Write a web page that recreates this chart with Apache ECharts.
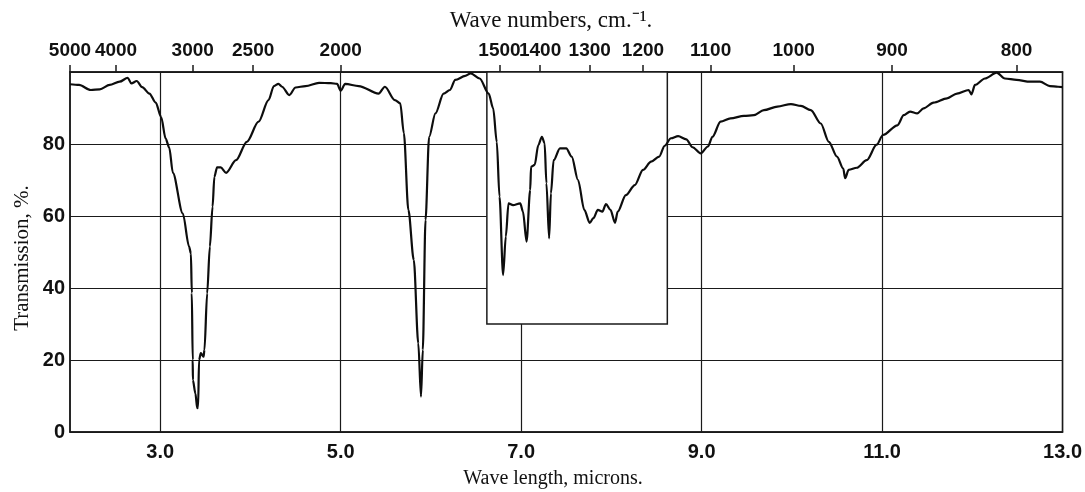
<!DOCTYPE html>
<html>
<head>
<meta charset="utf-8">
<script src="https://cdn.jsdelivr.net/npm/echarts@6/dist/echarts.min.js"></script>
<style>html,body{margin:0;padding:0;background:#fff}#c{width:1085px;height:492px}</style>
</head>
<body>
<div id="c"></div>
<script>
// Wavelength (microns) and transmission (%)
var wavelengthUm = [2.00,2.10,2.23,2.33,2.44,2.55,2.64,2.68,2.74,2.80,2.88,2.95,3.01,3.06,3.10,3.14,3.25,3.32,3.34,3.35,3.36,3.362,3.39,3.41,3.42,3.43,3.45,3.48,3.49,3.52,3.55,3.58,3.60,3.63,3.67,3.73,3.84,3.96,4.09,4.20,4.26,4.31,4.35,4.43,4.50,4.61,4.76,4.89,4.96,5.00,5.05,5.20,5.42,5.49,5.60,5.66,5.70,5.75,5.81,5.86,5.89,5.91,5.94,5.98,6.05,6.14,6.21,6.27,6.38,6.44,6.54,6.64,6.69,6.73,6.76,6.80,6.83,6.86,6.91,6.99,7.02,7.06,7.10,7.11,7.15,7.19,7.23,7.26,7.28,7.31,7.33,7.36,7.43,7.50,7.56,7.63,7.70,7.76,7.80,7.85,7.90,7.94,7.99,8.04,8.07,8.16,8.26,8.35,8.44,8.53,8.59,8.66,8.74,8.83,8.90,8.99,9.07,9.12,9.21,9.32,9.47,9.58,9.69,9.84,9.99,10.10,10.21,10.32,10.41,10.50,10.57,10.59,10.63,10.72,10.83,10.94,11.01,11.17,11.24,11.31,11.39,11.46,11.57,11.72,11.83,11.96,11.99,12.03,12.14,12.27,12.36,12.49,12.64,12.75,12.86,12.95,13.00];
var transmissionPct = [96.6,96.4,95.0,95.2,96.4,97.3,98.4,96.8,97.5,95.8,94.0,91.5,87.5,81.5,79.0,72.0,60.7,51.5,49.6,38.6,20.0,14.4,10.7,6.6,7.0,20.0,21.9,20.9,22.8,38.5,51.5,62.6,70.9,73.5,73.5,72.0,75.5,80.6,86.2,92.2,96.1,96.7,95.9,93.6,95.7,96.1,97.0,96.9,96.7,94.8,96.7,96.1,94.0,95.9,92.2,91.3,83.0,61.7,47.8,24.6,9.8,22.8,58.9,82.0,88.5,94.0,95.0,97.8,98.9,99.6,98.2,94.0,89.9,80.5,65.4,43.6,54.3,63.5,63.0,63.5,61.2,52.9,67.2,73.7,74.2,79.7,82.0,80.2,69.1,53.8,66.3,75.5,78.8,78.8,76.5,70.0,61.7,58.1,59.4,61.7,61.2,63.3,61.7,58.1,61.2,65.8,68.6,72.8,75.1,76.5,79.5,81.6,82.2,81.3,79.1,77.4,79.3,82.0,86.2,87.1,87.8,88.0,89.4,90.4,91.1,90.6,89.4,85.7,80.6,76.5,73.2,70.5,72.8,73.4,75.5,79.8,82.5,85.2,88.0,89.0,88.5,89.9,91.5,92.7,94.0,95.0,93.8,96.4,98.2,99.8,98.2,97.8,97.3,97.3,96.1,95.9,95.8];

// Bottom axis ticks (microns)
var bottomTicksUm = [3, 5, 7, 9, 11, 13];
// Top axis: wave-number labels and where they sit on the micron scale
var topTickLabels = ['5000','4000','3000','2500','2000','1500','1400','1300','1200','1100','1000','900','800'];
var topTickMicrons = [2.00, 2.51, 3.36, 4.03, 5.00, 6.76, 7.21, 7.76, 8.35, 9.10, 10.02, 11.11, 12.49];
// Y axis ticks
var yTicks = [0, 20, 40, 60, 80];
// Inset (blank) panel: wavelength span and lower transmission limit
var insetRange = [6.62, 8.62];
var insetBottom = 30;

var data = wavelengthUm.map(function (w, i) { return [w, transmissionPct[i]]; });

var chart = echarts.init(document.getElementById('c'));
var tickFont = { fontFamily: 'Liberation Sans', fontWeight: 'bold', fontSize: 20, color: '#111' };
var ink = '#1a1a1a';

chart.setOption({
  animation: false,
  backgroundColor: '#fff',
  grid: { left: 70, right: 22, top: 72, bottom: 60, show: true, borderColor: ink, borderWidth: 1.5, backgroundColor: 'transparent' },
  xAxis: [{
    type: 'value', position: 'bottom', min: 2, max: 13,
    axisLine: { show: true, lineStyle: { color: ink, width: 1.5 } },
    axisTick: { show: true, customValues: bottomTicksUm, length: 0, lineStyle: { color: ink } },
    axisLabel: Object.assign({ customValues: bottomTicksUm, margin: 10, formatter: function (v) { return v.toFixed(1); } }, tickFont),
    splitLine: { show: true, lineStyle: { color: ink, width: 1.2 } }
  }, {
    type: 'value', position: 'top', min: 2, max: 13,
    axisLine: { show: true, lineStyle: { color: ink, width: 1.5 } },
    axisTick: { show: true, customValues: topTickMicrons, length: 7, inside: false, lineStyle: { color: ink, width: 1.5 } },
    axisLabel: Object.assign({}, tickFont, { fontSize: 19, customValues: topTickMicrons, margin: 12, formatter: function (v) {
      var best = 0, d = 1e9;
      for (var i = 0; i < topTickMicrons.length; i++) { var dd = Math.abs(topTickMicrons[i] - v); if (dd < d) { d = dd; best = i; } }
      return topTickLabels[best];
    } }),
    splitLine: { show: false }
  }],
  yAxis: {
    type: 'value', min: 0, max: 100, interval: 20,
    axisLine: { show: true, lineStyle: { color: ink, width: 1.5 } },
    axisTick: { show: false },
    axisLabel: Object.assign({ margin: 5, formatter: function (v) { return yTicks.indexOf(v) >= 0 ? String(v) : ''; } }, tickFont),
    splitLine: { show: true, lineStyle: { color: ink, width: 1.2 } }
  },
  graphic: [
    { type: 'text', x: 551, y: 21, style: { text: 'Wave numbers, cm.\u207B\u00B9.', fontFamily: 'Liberation Serif', fontSize: 23, fill: '#111', align: 'center', verticalAlign: 'middle' } },
    { type: 'text', x: 553, y: 479, style: { text: 'Wave length, microns.', fontFamily: 'Liberation Serif', fontSize: 20, fill: '#111', align: 'center', verticalAlign: 'middle' } },
    { type: 'text', x: 22, y: 258, rotation: Math.PI / 2, style: { text: 'Transmission, %.', fontFamily: 'Liberation Serif', fontSize: 21, fill: '#111', align: 'center', verticalAlign: 'middle' } }
  ],
  series: [{
    type: 'line', xAxisIndex: 0, yAxisIndex: 0, data: data, showSymbol: false, smooth: 0.3, smoothMonotone: 'x', z: 3,
    lineStyle: { color: '#0d0d0d', width: 2.2 },
    markArea: {
      silent: true, z: 1,
      itemStyle: { color: '#ffffff', borderColor: ink, borderWidth: 1.5 },
      data: [[{ coord: [insetRange[0], insetBottom] }, { coord: [insetRange[1], 100] }]]
    }
  }]
});
</script>
</body>
</html>
